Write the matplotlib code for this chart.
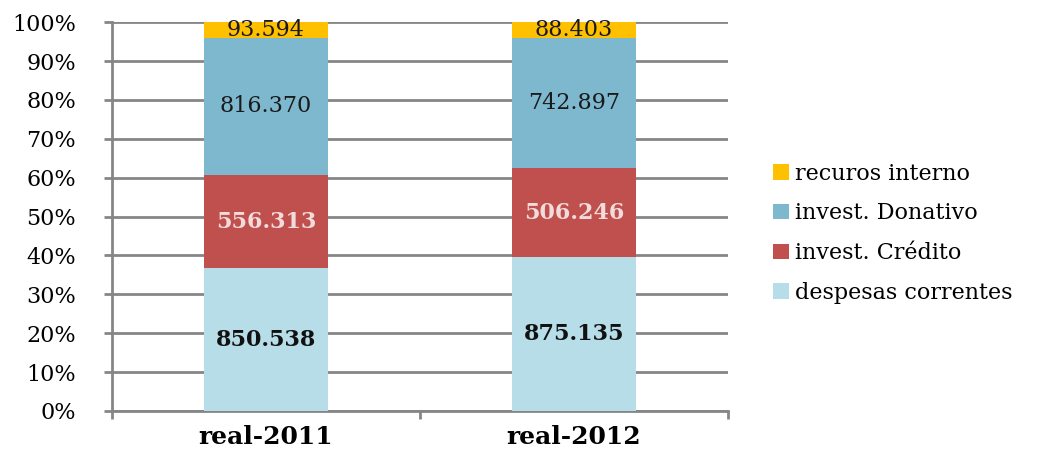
import matplotlib.pyplot as plt
import numpy as np
from matplotlib.ticker import PercentFormatter, FixedLocator

# data
categories = ['real-2011', 'real-2012']
despesas = [850.538, 875.135]
credito = [556.313, 506.246]
donativo = [816.370, 742.897]
recursos = [93.594, 88.403]
series_names = ['despesas correntes', 'invest. Crédito', 'invest. Donativo', 'recuros interno']

colors = ['#B7DDE8', '#C0504D', '#7EB8CF', '#FFC000']
label_colors = ['#111111', '#F2DCDB', '#1a1a1a', '#1a1a1a']
label_weights = ['bold', 'bold', 'normal', 'normal']

plt.rcParams['font.family'] = ['DejaVu Serif']

def main():
    values = np.array([despesas, credito, donativo, recursos])
    totals = values.sum(axis=0)
    shares = values / totals * 100

    fig = plt.figure(figsize=(10.46, 4.53), dpi=100)
    ax = fig.add_axes([0.107, 0.093, 0.589, 0.858])

    x = np.arange(len(categories))
    bottom = np.zeros(len(categories))
    handles = []
    for i, name in enumerate(series_names):
        bars = ax.bar(x, shares[i], 0.4, bottom=bottom, color=colors[i], label=name, zorder=3)
        handles.append(bars)
        for j in range(len(categories)):
            ax.text(x[j], bottom[j] + shares[i][j] / 2, f'{values[i][j]:.3f}',
                    ha='center', va='center', fontsize=16, color=label_colors[i],
                    fontweight=label_weights[i], zorder=4)
        bottom += shares[i]

    ax.set_xlim(-0.5, 1.5)
    ax.set_ylim(0, 100)
    ax.set_yticks(np.arange(0, 101, 10))
    ax.yaxis.set_major_formatter(PercentFormatter(decimals=0))
    ax.set_xticks(x)
    ax.set_xticklabels(categories, fontsize=18, fontweight='bold')
    ax.xaxis.set_minor_locator(FixedLocator([-0.5, 0.5, 1.5]))
    ax.tick_params(axis='x', which='major', length=0, pad=10)
    ax.tick_params(axis='x', which='minor', length=6, width=2, color='#868686')
    ax.tick_params(axis='y', labelsize=16, length=6, width=2, color='#868686', pad=20)

    ax.grid(axis='y', color='#868686', linewidth=2, zorder=0)
    for s in ['top', 'right']:
        ax.spines[s].set_visible(False)
    for s in ['left', 'bottom']:
        ax.spines[s].set_color('#868686')
        ax.spines[s].set_linewidth(2)

    fig.legend(handles[::-1], series_names[::-1], loc='center left',
               bbox_to_anchor=(0.72, 0.485), frameon=False, fontsize=16,
               handlelength=0.7, handleheight=0.7, handletextpad=0.3,
               labelspacing=0.8)

    fig.savefig('out.png', dpi=100)

if __name__ == "__main__":
    main()
